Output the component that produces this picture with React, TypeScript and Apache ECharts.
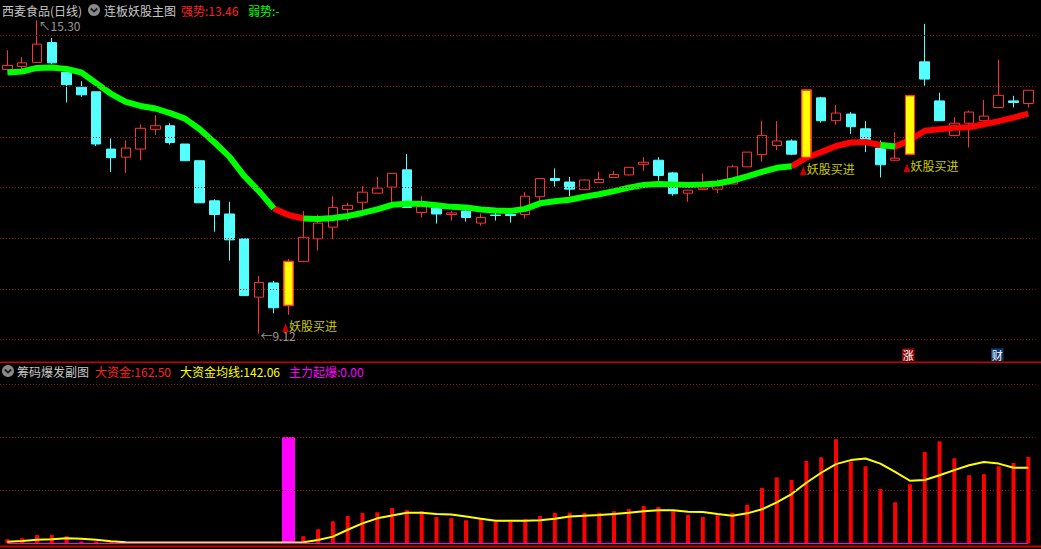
import React, { useEffect, useRef } from "react";
import * as echarts from "echarts";

// ---------- data ----------
const CATEGORIES = [
  "1","2","3","4","5","6","7","8","9","10","11","12","13","14","15","16","17","18","19","20",
  "21","22","23","24","25","26","27","28","29","30","31","32","33","34","35","36","37","38","39","40",
  "41","42","43","44","45","46","47","48","49","50","51","52","53","54","55","56","57","58","59","60",
  "61","62","63","64","65","66","67","68","69","70",
];

const OPEN = [
  14.33, 14.39, 14.47, 14.86, 14.27, 13.98, 13.89, 12.76, 12.6, 12.76,
  13.15, 13.22, 12.86, 12.53, 11.74, 11.48, 10.99, 9.84, 10.12, 9.67,
  10.54, 10.99, 11.22, 11.57, 11.71, 11.89, 12.01, 12.35, 11.51, 11.6,
  11.47, 11.54, 11.3, 11.46, 11.47, 11.47, 11.82, 12.18, 12.11, 11.96,
  12.1, 12.2, 12.25, 12.46, 12.54, 12.29, 11.89, 11.96, 11.97, 12.07,
  12.41, 12.65, 12.83, 12.92, 12.59, 13.77, 13.32, 13.45, 13.16, 12.78,
  12.54, 12.65, 14.48, 13.71, 13.03, 13.27, 13.32, 13.58, 13.71, 13.66,
];
const CLOSE = [
  14.41, 14.46, 14.83, 14.46, 14.03, 13.83, 12.86, 12.59, 12.78, 13.17,
  13.22, 12.89, 12.53, 11.7, 11.47, 10.97, 9.87, 10.13, 9.63, 10.55,
  11.02, 11.3, 11.61, 11.65, 11.91, 11.99, 12.28, 11.61, 11.62, 11.48,
  11.5, 11.41, 11.41, 11.45, 11.45, 11.83, 12.18, 12.14, 11.97, 12.15,
  12.16, 12.26, 12.4, 12.5, 12.24, 11.88, 11.95, 11.99, 12.09, 12.41,
  12.7, 13.03, 12.92, 12.66, 13.93, 13.32, 13.47, 13.2, 12.95, 12.45,
  12.58, 13.82, 14.14, 13.32, 13.27, 13.49, 13.41, 13.82, 13.68, 13.92,
];
const LOW = [
  14.32, 14.33, 14.46, 14.44, 13.68, 13.79, 12.82, 12.31, 12.29, 12.54,
  13.04, 12.85, 12.53, 11.7, 11.13, 10.56, 9.87, 9.12, 9.52, 9.49,
  10.53, 10.76, 10.98, 11.33, 11.56, 11.88, 11.72, 11.6, 11.41, 11.29,
  11.35, 11.33, 11.25, 11.35, 11.31, 11.39, 11.74, 12.02, 11.83, 11.96,
  12.09, 12.2, 12.24, 12.33, 12.14, 11.84, 11.72, 11.95, 11.89, 12.07,
  12.41, 12.51, 12.74, 12.64, 12.59, 13.28, 13.24, 13.06, 12.7, 12.2,
  12.53, 12.65, 14.01, 13.32, 13.03, 12.79, 13.32, 13.57, 13.58, 13.58,
];
const HIGH = [
  14.71, 14.57, 15.3, 14.95, 14.27, 14.1, 13.89, 12.97, 12.93, 13.25,
  13.43, 13.27, 12.86, 12.53, 11.77, 11.72, 10.99, 10.26, 10.16, 10.59,
  11.54, 11.47, 11.83, 11.7, 12.03, 12.21, 12.28, 12.66, 11.83, 11.6,
  11.54, 11.58, 11.49, 11.52, 11.56, 11.91, 12.18, 12.38, 12.21, 12.16,
  12.31, 12.33, 12.4, 12.6, 12.6, 12.31, 11.96, 12.28, 12.16, 12.45,
  12.7, 13.32, 13.31, 12.95, 13.93, 13.79, 13.63, 13.49, 13.31, 12.93,
  13.09, 13.82, 15.23, 13.87, 13.39, 13.52, 13.73, 14.52, 13.81, 13.92,
];

// main trend line (强势 red / 弱势 green)
const TREND = [
  14.27, 14.29, 14.36, 14.37, 14.34, 14.27, 14.06, 13.85, 13.69, 13.61,
  13.56, 13.47, 13.36, 13.15, 12.89, 12.61, 12.23, 11.93, 11.59, 11.46,
  11.39, 11.38, 11.4, 11.44, 11.5, 11.57, 11.66, 11.68, 11.68, 11.65,
  11.62, 11.61, 11.57, 11.55, 11.54, 11.58, 11.69, 11.73, 11.76, 11.82,
  11.87, 11.93, 12.0, 12.05, 12.07, 12.06, 12.05, 12.06, 12.08, 12.14,
  12.22, 12.31, 12.39, 12.42, 12.59, 12.7, 12.82, 12.89, 12.9, 12.84,
  12.81, 12.94, 13.12, 13.15, 13.18, 13.19, 13.25, 13.31, 13.38, 13.46,
];
// S = strong (red), W = weak (green)
const STATE = [
  "W","W","W","W","W","W","W","W","W","W",
  "W","W","W","W","W","W","W","W","W","S",
  "S","W","W","W","W","W","W","W","W","W",
  "W","W","W","W","W","W","W","W","W","W",
  "W","W","W","W","W","W","W","W","W","W",
  "W","W","W","W","S","S","S","S","S","S",
  "W","S","S","S","S","S","S","S","S","S",
];
const SIGNALS = [19, 54, 61];
const GRID_PRICES = [9, 10, 11, 12, 13, 14, 15];

// sub chart
const BIG = [
  7, 9, 15, 15, 13, 3, 3, 2, 1.5, 1.5,
  1.5, 1.5, 1.5, 1.5, 1.5, 1.5, 1.5, 1.5, 1.5, 1.5,
  13, 26, 41, 51, 57, 58, 66, 62, 60, 49,
  47, 43, 45, 40, 40, 45, 51, 57, 57, 57,
  57, 60, 64, 70, 68, 60, 53, 49, 52, 57,
  72, 104, 124, 119, 155, 162, 196, 154, 145, 102,
  77, 111, 172, 192, 160, 128, 130, 145, 151, 162.5,
];
const AVG = [
  2.5, 4, 6, 7, 9, 8, 6, 3.5, 1.5, 1,
  1, 1, 1, 1, 1, 1, 1, 1, 1, 1,
  1.5, 5.7, 12, 25, 37, 46.6, 52, 57, 57, 55,
  54, 50, 46, 42, 42, 42, 43, 46, 50, 51.5,
  53, 55, 57, 60, 62, 61.7, 59, 58.5, 54.7, 51.5,
  56, 63.6, 76.8, 92.5, 113.8, 132.7, 149, 156.6, 159.7, 150,
  134.5, 117.6, 118.9, 128, 137.7, 147, 153, 150, 142, 142.06,
];
const BURST = [
  0, 0, 0, 0, 0, 0, 0, 0, 0, 0,
  0, 0, 0, 0, 0, 0, 0, 0, 0, 200,
  0, 0, 0, 0, 0, 0, 0, 0, 0, 0,
  0, 0, 0, 0, 0, 0, 0, 0, 0, 0,
  0, 0, 0, 0, 0, 0, 0, 0, 0, 0,
  0, 0, 0, 0, 0, 0, 0, 0, 0, 0,
  0, 0, 0, 0, 0, 0, 0, 0, 0, 0,
];
const SUB_GRID = [100, 200, 300];

// ---------- styles ----------
const FONT = '"Noto Sans CJK SC", "Noto Sans", sans-serif';
const UP = "#ff3232";
const DOWN = "#54ffff";
const GRIDLINE = { color: "#9a1010", type: [1, 2] as any, width: 1 };

export default function App() {
  const ref = useRef<HTMLDivElement>(null);

  useEffect(() => {
    if (!ref.current) return;
    const chart = echarts.init(ref.current, undefined, { renderer: "svg" });
    const n = CATEGORIES.length;

    const candleData = OPEN.map((o, i) => [o, CLOSE[i], LOW[i], HIGH[i]]);
    const strong = TREND.map((v, i) =>
      STATE[i] === "S" || (i + 1 < n && STATE[i + 1] === "S") ? v : null
    );
    const weak = TREND.map((v, i) =>
      STATE[i] === "W" || (i + 1 < n && STATE[i + 1] === "W") ? v : null
    );
    const sigBase = OPEN.map((o, i) => (SIGNALS.includes(i) ? Math.min(o, CLOSE[i]) : "-"));
    const sigBody = OPEN.map((o, i) => (SIGNALS.includes(i) ? Math.abs(CLOSE[i] - o) : "-"));

    let hiIdx = 0;
    let loIdx = 0;
    HIGH.forEach((h, i) => { if (h > HIGH[hiIdx]) hiIdx = i; });
    LOW.forEach((l, i) => { if (l < LOW[loIdx]) loIdx = i; });

    const last = n - 1;
    const strongText = STATE[last] === "S" ? TREND[last].toFixed(2) : "-";
    const weakText = STATE[last] === "W" ? TREND[last].toFixed(2) : "-";

    const txt = (text: string, x: number, y: number, fill: string, size = 12) => ({
      type: "text",
      x,
      y,
      silent: true,
      z: 100,
      style: { text, fill, fontSize: size, fontFamily: FONT, verticalAlign: "middle", align: "left" },
    });
    const icon = (cx: number, cy: number) => ({
      type: "group",
      z: 100,
      silent: true,
      children: [
        { type: "circle", shape: { cx, cy, r: 6 }, style: { fill: "#8a8a8a" } },
        {
          type: "polyline",
          shape: { points: [[cx - 3.2, cy - 1.5], [cx, cy + 1.6], [cx + 3.2, cy - 1.5]] },
          style: { stroke: "#1a1a1a", lineWidth: 1.8, fill: "none" },
        },
      ],
    });
    const badge = (ch: string, x: number, y: number, bg: string) => ({
      type: "group",
      z: 100,
      silent: true,
      children: [
        { type: "rect", shape: { x, y, width: 12.5, height: 12.5 }, style: { fill: bg } },
        {
          type: "text",
          x: x + 6.25,
          y: y + 6.5,
          style: { text: ch, fill: "#ffffff", fontSize: 11, fontFamily: FONT, align: "center", verticalAlign: "middle" },
        },
      ],
    });

    const option: any = {
      animation: false,
      backgroundColor: "#000000",
      grid: [
        { left: -1.7, right: 5.3, top: 0, height: 360 },
        { left: -1.7, right: 5.3, top: 363, height: 180 },
      ],
      xAxis: [
        { type: "category", gridIndex: 0, data: CATEGORIES, boundaryGap: true, show: false },
        { type: "category", gridIndex: 1, data: CATEGORIES, boundaryGap: true, show: false },
        { type: "category", gridIndex: 1, data: CATEGORIES, boundaryGap: true, show: false },
      ],
      yAxis: [
        { type: "value", gridIndex: 0, min: 8.6, max: 15.7, show: false, splitLine: { show: false } },
        { type: "value", gridIndex: 1, min: 0, max: 340, show: false, splitLine: { show: false } },
      ],
      series: [
        {
          type: "candlestick",
          name: "K",
          xAxisIndex: 0,
          yAxisIndex: 0,
          barWidth: 10,
          z: 2,
          data: candleData,
          itemStyle: {
            color: "#000000",
            color0: DOWN,
            borderColor: UP,
            borderColor0: DOWN,
            borderWidth: 1,
          },
          markLine: {
            silent: true,
            symbol: "none",
            label: { show: false },
            lineStyle: GRIDLINE,
            data: GRID_PRICES.map((v) => ({ yAxis: v })),
          },
        },
        {
          type: "line",
          name: "强势",
          xAxisIndex: 0,
          yAxisIndex: 0,
          data: strong,
          symbol: "none",
          connectNulls: false,
          z: 3,
          lineStyle: { color: "#ff0000", width: 6 },
        },
        {
          type: "line",
          name: "弱势",
          xAxisIndex: 0,
          yAxisIndex: 0,
          data: weak,
          symbol: "none",
          connectNulls: false,
          z: 4,
          lineStyle: { color: "#00ff00", width: 6 },
        },
        {
          type: "bar",
          name: "sigBase",
          xAxisIndex: 0,
          yAxisIndex: 0,
          stack: "sig",
          barWidth: 10,
          z: 5,
          data: sigBase,
          itemStyle: { color: "rgba(0,0,0,0)" },
        },
        {
          type: "bar",
          name: "妖股买进",
          xAxisIndex: 0,
          yAxisIndex: 0,
          stack: "sig",
          barWidth: 10,
          z: 5,
          data: sigBody,
          itemStyle: { color: "#ffff00", borderColor: UP, borderWidth: 1 },
        },
        {
          type: "scatter",
          name: "signalText",
          xAxisIndex: 0,
          yAxisIndex: 0,
          z: 6,
          symbol: "triangle",
          symbolSize: [7, 9],
          symbolOffset: [-3, 13],
          itemStyle: { color: "#ff0000" },
          data: SIGNALS.map((i) => [i, LOW[i]]),
          label: {
            show: true,
            position: "right",
            distance: 0,
            formatter: "妖股买进",
            color: "#ffff00",
            fontSize: 12,
            fontFamily: FONT,
            offset: [0, -2],
          },
        },
        {
          type: "scatter",
          name: "extremes",
          xAxisIndex: 0,
          yAxisIndex: 0,
          z: 6,
          symbolSize: 1,
          itemStyle: { color: "rgba(0,0,0,0)" },
          data: [
            {
              value: [hiIdx, HIGH[hiIdx]],
              label: { formatter: "↖" + HIGH[hiIdx].toFixed(2), offset: [0, 5] },
            },
            {
              value: [loIdx, LOW[loIdx]],
              label: { formatter: "←" + LOW[loIdx].toFixed(2), offset: [0, 2] },
            },
          ],
          label: {
            show: true,
            position: "right",
            distance: 1,
            color: "#c0c0c0",
            fontSize: 12,
            fontFamily: FONT,
          },
        },
        // sub chart
        {
          type: "bar",
          name: "大资金",
          xAxisIndex: 1,
          yAxisIndex: 1,
          barWidth: 4,
          z: 2,
          data: BIG,
          itemStyle: { color: "#ff0000" },
          markLine: {
            silent: true,
            symbol: "none",
            label: { show: false },
            data: [
              ...SUB_GRID.map((v) => ({ yAxis: v, lineStyle: GRIDLINE })),
              [
                { coord: [CATEGORIES[0], 0], lineStyle: { color: "#ff00ff", width: 1, type: "solid" } },
                { coord: [CATEGORIES[n - 1], 0] },
              ],
            ],
          },
        },
        {
          type: "bar",
          name: "主力起爆",
          xAxisIndex: 2,
          yAxisIndex: 1,
          barWidth: 13,
          z: 3,
          data: BURST,
          itemStyle: { color: "#ff00ff" },
        },
        {
          type: "line",
          name: "大资金均线",
          xAxisIndex: 1,
          yAxisIndex: 1,
          data: AVG,
          symbol: "none",
          z: 4,
          lineStyle: { color: "#ffff00", width: 2 },
        },
      ],
      graphic: [
        { type: "rect", silent: true, z: 90, shape: { x: 0, y: 361.5, width: 1041, height: 1.6 }, style: { fill: "#cc0000" } },
        { type: "rect", silent: true, z: 90, shape: { x: 0, y: 545.6, width: 1041, height: 1.8 }, style: { fill: "#cc0000" } },
        txt("西麦食品(日线)", 2, 10, "#c8c8c8"),
        icon(94, 10),
        txt("连板妖股主图", 104, 10, "#c8c8c8"),
        txt("强势:" + strongText, 181, 10, "#ff2020"),
        txt("弱势:" + weakText, 248, 10, "#00ff00"),
        icon(8, 371),
        txt("筹码爆发副图", 17, 371, "#c8c8c8"),
        txt("大资金:" + BIG[last].toFixed(2), 95, 371, "#ff2020"),
        txt("大资金均线:" + AVG[last].toFixed(2), 180, 371, "#ffff00"),
        txt("主力起爆:" + BURST[last].toFixed(2), 289, 371, "#ff00ff"),
        badge("涨", 902, 348.3, "#8b0a0a"),
        badge("财", 991, 348.3, "#0b3a70"),
      ],
    };

    chart.setOption(option);
    return () => chart.dispose();
  }, []);

  return (
    <div
      ref={ref}
      style={{ position: "fixed", left: 0, top: 0, width: 1041, height: 549, background: "#000" }}
    />
  );
}
